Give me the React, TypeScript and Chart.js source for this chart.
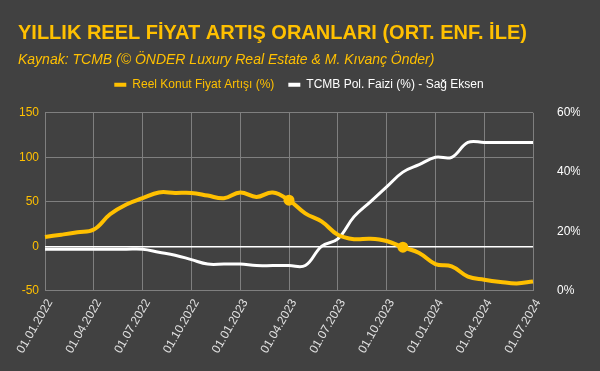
import { useEffect, useRef } from 'react';
import { Chart, registerables } from 'chart.js';

Chart.register(...registerables);

const labels = [
  '01.01.2022', '01.02.2022', '01.03.2022', '01.04.2022', '01.05.2022', '01.06.2022',
  '01.07.2022', '01.08.2022', '01.09.2022', '01.10.2022', '01.11.2022', '01.12.2022',
  '01.01.2023', '01.02.2023', '01.03.2023', '01.04.2023', '01.05.2023', '01.06.2023',
  '01.07.2023', '01.08.2023', '01.09.2023', '01.10.2023', '01.11.2023', '01.12.2023',
  '01.01.2024', '01.02.2024', '01.03.2024', '01.04.2024', '01.05.2024', '01.06.2024',
  '01.07.2024',
];

const realHousePrice = [
  10.5, 13, 15.7, 18.8, 36, 47, 54, 60.5, 60, 60, 57, 54,
  60.5, 55.5, 60.5, 51.8, 37, 28, 13, 8, 8.5, 6, -1, -7.5,
  -20, -22.5, -34, -37.5, -40, -41.7, -39.5,
];

const policyRate = [
  14, 14, 14, 14, 14, 14, 14, 13, 12, 10.5, 9, 9,
  9, 8.5, 8.5, 8.5, 8.5, 15, 17.5, 25, 30, 35, 40, 42.5,
  45, 45, 50, 50, 50, 50, 50,
];

const highlightedIndices = [15, 22];
const leftTicks = [-50, 0, 50, 100, 150];
const rightTicks = [0, 20, 40, 60];

const FONT = "'Liberation Sans', Arial, sans-serif";
const GOLD = '#FFC000';
const BG = '#414141';
const GRID = '#7f7f7f';

const legendSpacer = {
  id: 'legendSpacer',
  beforeInit(chart: any) {
    const legend = chart.legend;
    if (!legend) return;
    const origFit = legend.fit;
    legend.fit = function () {
      origFit.call(this);
      this.height += 12;
    };
  },
};

export default function App() {
  const ref = useRef<HTMLCanvasElement | null>(null);

  useEffect(() => {
    document.body.style.margin = '0';
    document.body.style.background = BG;
    const canvas = ref.current;
    if (!canvas) return;
    const chart = new Chart(canvas, {
      type: 'line',
      plugins: [legendSpacer],
      data: {
        labels,
        datasets: [
          {
            label: 'Reel Konut Fiyat Artışı (%)',
            data: realHousePrice,
            borderColor: GOLD,
            backgroundColor: GOLD,
            borderWidth: 4,
            tension: 0.4,
            pointRadius: realHousePrice.map((_, i) => (highlightedIndices.includes(i) ? 5.5 : 0)),
            pointBackgroundColor: GOLD,
            pointBorderWidth: 0,
            yAxisID: 'y',
          },
          {
            label: 'TCMB Pol. Faizi (%) - Sağ Eksen',
            data: policyRate,
            borderColor: '#ffffff',
            backgroundColor: '#ffffff',
            borderWidth: 3,
            tension: 0.4,
            pointRadius: 0,
            yAxisID: 'y1',
          },
        ],
      },
      options: {
        animation: false,
        responsive: true,
        maintainAspectRatio: false,
        layout: { padding: { left: 18, right: 20, bottom: 9, top: 0 } },
        plugins: {
          title: {
            display: true,
            text: 'YILLIK REEL FİYAT ARTIŞ ORANLARI (ORT. ENF. İLE)',
            align: 'start',
            color: GOLD,
            font: { family: FONT, size: 20, weight: 'bold' },
            padding: { top: 21, bottom: 4 },
          },
          subtitle: {
            display: true,
            text: 'Kaynak: TCMB (© ÖNDER Luxury Real Estate & M. Kıvanç Önder)',
            align: 'start',
            color: GOLD,
            font: { family: FONT, size: 14, style: 'italic' },
            padding: { top: 3, bottom: -4 },
          },
          legend: {
            display: true,
            position: 'top',
            labels: {
              boxWidth: 12,
              boxHeight: 4,
              padding: 14,
              font: { family: FONT, size: 12 },
              generateLabels: (c: any) => {
                const items = Chart.defaults.plugins.legend.labels.generateLabels(c);
                return items.map((it: any, i: number) => ({
                  ...it,
                  fillStyle: i === 0 ? GOLD : '#ffffff',
                  strokeStyle: i === 0 ? GOLD : '#ffffff',
                  lineWidth: 0,
                  fontColor: i === 0 ? GOLD : '#ffffff',
                }));
              },
            },
          },
          tooltip: { enabled: false },
        },
        scales: {
          x: {
            grid: { color: GRID, drawTicks: false, lineWidth: 1 },
            border: { color: GRID },
            afterFit: (axis: any) => {
              axis.paddingLeft = 0;
              axis.paddingRight = 0;
            },
            ticks: {
              color: '#e0e0e0',
              autoSkip: false,
              minRotation: 60,
              maxRotation: 60,
              padding: 6,
              labelOffset: 5,
              font: { family: FONT, size: 12 },
              callback: (_v: any, i: number) => (i % 3 === 0 ? labels[i] : null),
            },
          },
          y: {
            position: 'left',
            min: leftTicks[0],
            max: leftTicks[leftTicks.length - 1],
            afterBuildTicks: (axis: any) => {
              axis.ticks = leftTicks.map((v) => ({ value: v }));
            },
            afterFit: (axis: any) => {
              axis.width = 27;
            },
            grid: {
              drawTicks: false,
              color: (ctx: any) => (ctx.tick && ctx.tick.value === 0 ? '#ffffff' : GRID),
              lineWidth: (ctx: any) => (ctx.tick && ctx.tick.value === 0 ? 1.5 : 1),
            },
            border: { display: false },
            ticks: {
              color: GOLD,
              padding: 6,
              font: { family: FONT, size: 12 },
            },
          },
          y1: {
            position: 'right',
            min: rightTicks[0],
            max: rightTicks[rightTicks.length - 1],
            afterBuildTicks: (axis: any) => {
              axis.ticks = rightTicks.map((v) => ({ value: v }));
            },
            afterFit: (axis: any) => {
              axis.width = 47;
            },
            grid: { display: false, drawTicks: false },
            border: { display: false },
            ticks: {
              color: '#ffffff',
              padding: 24,
              font: { family: FONT, size: 12 },
              callback: (v: any) => `${v}%`,
            },
          },
        },
      },
    });
    return () => chart.destroy();
  }, []);

  return (
    <div style={{ position: 'fixed', left: 0, top: 0, width: 600, height: 371, background: BG }}>
      <canvas ref={ref} />
    </div>
  );
}
